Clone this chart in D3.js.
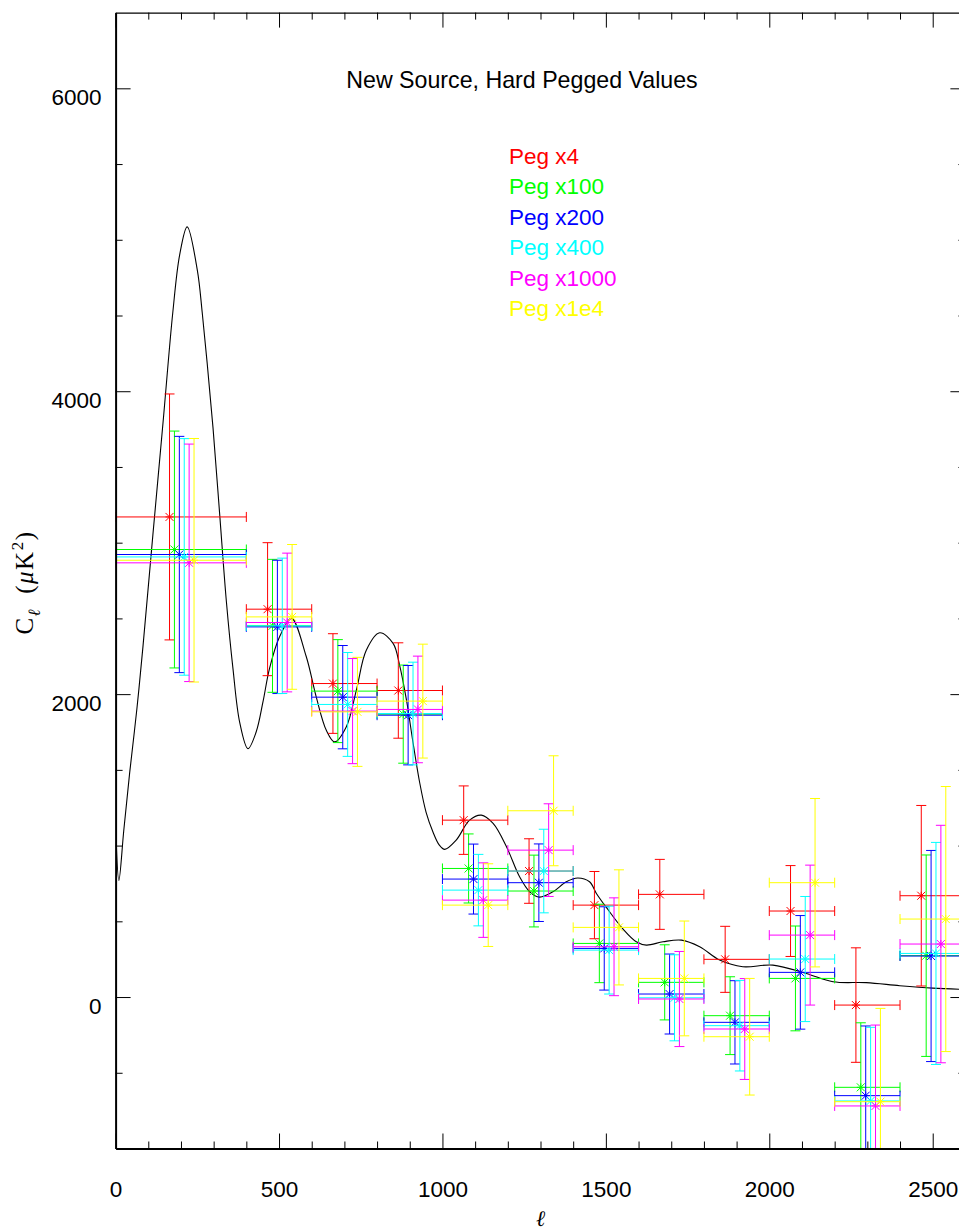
<!DOCTYPE html>
<html>
<head>
<meta charset="utf-8">
<script src="https://cdn.jsdelivr.net/npm/d3@7"></script>
<style>
  body { margin: 0; background: #fff; }
  svg { display: block; }
</style>
</head>
<body>
<svg id="chart" width="959" height="1232"></svg>
<script>
// Multipole bins (band powers span each bin)
const binLo = [0, 400, 600, 800, 1000, 1200, 1400, 1600, 1800, 2000, 2200, 2400];
const binHi = [400, 600, 800, 1000, 1200, 1400, 1600, 1800, 2000, 2200, 2400, 2600];

// Series labels, colours, and the small l-offset each series is drawn at
const seriesNames = ["Peg x4", "Peg x100", "Peg x200", "Peg x400", "Peg x1000", "Peg x1e4"];
const seriesColors = ["#ff0000", "#00ff00", "#0000ff", "#00ffff", "#ff00ff", "#ffff00"];
const seriesShift = [-35, -20, -5, 10, 25, 40];

// Band powers C_l (uK^2) and 1-sigma errors per bin
const pegX4       = [3170, 2561, 2070, 2024, 1168, 832, 607, 678, 249, 568, -53, 669];
const pegX4Err    = [812, 439, 329, 315, 226, 213, 222, 231, 218, 300, 378, 596];
const pegX100     = [2955, 2451, 2020, 1868, 849, 700, 354, 97, -123, 123, -596, 273];
const pegX100Err  = [782, 439, 340, 324, 228, 237, 259, 248, 257, 346, 426, 665];
const pegX200     = [2922, 2444, 1980, 1861, 779, 755, 321, 20, -167, 163, -651, 271];
const pegX200Err  = [780, 440, 341, 328, 231, 256, 275, 264, 275, 375, 460, 697];
const pegX400     = [2906, 2451, 1932, 1872, 706, 832, 310, -5, -189, 251, -686, 288];
const pegX400Err  = [781, 447, 343, 339, 236, 276, 290, 284, 299, 413, 486, 733];
const pegX1000    = [2867, 2473, 1888, 1899, 640, 970, 332, -13, -211, 409, -719, 350];
const pegX1000Err = [784, 458, 347, 352, 246, 306, 323, 314, 333, 462, 534, 784];
const pegX1e4     = [2884, 2510, 1883, 1954, 607, 1230, 460, 123, -262, 755, -691, 515];
const pegX1e4Err  = [804, 478, 360, 376, 273, 363, 380, 379, 385, 556, 616, 875];

const seriesValues = [pegX4, pegX100, pegX200, pegX400, pegX1000, pegX1e4];
const seriesErrors = [pegX4Err, pegX100Err, pegX200Err, pegX400Err, pegX1000Err, pegX1e4Err];

// Theory spectrum sampled in l
const modelL = [2, 10, 25, 43, 65, 84, 114, 145, 175, 196, 219, 250, 265, 280, 298, 318, 339, 359, 380, 405,
  430, 451, 471, 502, 538, 583, 614, 645, 670, 706, 737, 767, 808, 849, 869, 890, 910, 930, 950, 971, 990,
  1007, 1042, 1083, 1119, 1155, 1196, 1236, 1267, 1297, 1338, 1379, 1414, 1450, 1471, 1502, 1552, 1593,
  1624, 1675, 1731, 1787, 1848, 1919, 2011, 2113, 2195, 2297, 2399, 2500, 2600];
const modelCl = [1020, 770, 1100, 1480, 1900, 2320, 3050, 3790, 4520, 4900, 5085, 4800, 4520, 4190, 3760,
  3200, 2610, 2170, 1810, 1640, 1750, 1950, 2170, 2380, 2500, 2250, 1980, 1760, 1685, 1785, 2030, 2290, 2405,
  2335, 2190, 1960, 1680, 1420, 1220, 1090, 1005, 975, 1036, 1168, 1201, 1146, 992, 794, 695, 660, 695,
  761, 786, 761, 684, 590, 450, 365, 343, 365, 376, 332, 244, 200, 211, 156, 101, 95, 75, 59, 50];

// Axis ticks
const xMajorTicks = [0, 500, 1000, 1500, 2000, 2500];
const xMinorTicks = [100, 200, 300, 400, 600, 700, 800, 900, 1100, 1200, 1300, 1400, 1600, 1700, 1800, 1900, 2100, 2200, 2300, 2400];
const yMajorTicks = [0, 2000, 4000, 6000];
const yMinorTicks = [-500, 500, 1000, 1500, 2500, 3000, 3500, 4500, 5000, 5500];

const titleText = "New Source, Hard Pegged Values";

const svg = d3.select("#chart");
const pL = 115.6, pR = 965.4, pT = 12.6, pB = 1148.5;
const x = d3.scaleLinear().domain([0, 2600]).range([pL, pR]);
const y = d3.scaleLinear().domain([-1000, 6500]).range([pB, pT]);
const FONT = "'Liberation Sans', Arial, Helvetica, sans-serif";
const FS = 22.5;

svg.append("defs").append("clipPath").attr("id", "plotClip")
  .append("rect").attr("x", pL).attr("y", pT).attr("width", pR - pL).attr("height", pB - pT);

const plot = svg.append("g").attr("clip-path", "url(#plotClip)");

// Theory curve
const line = d3.line().x((d, i) => x(modelL[i])).y(d => y(d)).curve(d3.curveCatmullRom.alpha(0.5));
plot.append("path").datum(modelCl)
  .attr("d", line).attr("fill", "none").attr("stroke", "#000").attr("stroke-width", 1.1);

// Band powers with error bars
const cap = 5, star = 4;
seriesValues.forEach((vals, s) => {
  const g = plot.append("g").attr("stroke", seriesColors[s]).attr("stroke-width", 1).attr("fill", "none");
  const errs = seriesErrors[s];
  vals.forEach((v, i) => {
    const lc = (binLo[i] + binHi[i]) / 2 + seriesShift[s];
    const cx = x(lc), cy = y(v);
    const x0 = x(binLo[i]), x1 = x(binHi[i]);
    const yTop = y(v + errs[i]), yBot = y(v - errs[i]);
    const segs = [
      [x0, cy, x1, cy], [x0, cy - cap, x0, cy + cap], [x1, cy - cap, x1, cy + cap],
      [cx, yTop, cx, yBot], [cx - cap, yTop, cx + cap, yTop], [cx - cap, yBot, cx + cap, yBot],
      [cx - star, cy - star, cx + star, cy + star], [cx - star, cy + star, cx + star, cy - star],
      [cx - star, cy, cx + star, cy], [cx, cy - star, cx, cy + star]
    ];
    g.selectAll(null).data(segs).enter().append("line")
      .attr("x1", d => d[0]).attr("y1", d => d[1]).attr("x2", d => d[2]).attr("y2", d => d[3]);
  });
});

// Axes
function styleAxis(g, domainWidth) {
  g.select(".domain").attr("stroke", "#000").attr("stroke-width", domainWidth);
  g.selectAll(".tick line").attr("stroke", "#000").attr("stroke-width", 1);
  g.selectAll("text").attr("fill", "#000").style("font-family", FONT).style("font-size", FS + "px");
}

const gxb = svg.append("g").attr("transform", `translate(0,${pB})`)
  .call(d3.axisBottom(x).tickValues(xMajorTicks).tickSize(-15).tickSizeOuter(0).tickPadding(33).tickFormat(d3.format("d")));
styleAxis(gxb, 2);
const gxbm = svg.append("g").attr("transform", `translate(0,${pB})`)
  .call(d3.axisBottom(x).tickValues(xMinorTicks).tickSize(-7).tickSizeOuter(0).tickFormat(""));
styleAxis(gxbm, 0);

const gxt = svg.append("g").attr("transform", `translate(0,${pT})`)
  .call(d3.axisTop(x).tickValues(xMajorTicks).tickSize(-15).tickSizeOuter(0).tickFormat(""));
styleAxis(gxt, 1.4);
const gxtm = svg.append("g").attr("transform", `translate(0,${pT})`)
  .call(d3.axisTop(x).tickValues(xMinorTicks).tickSize(-7).tickSizeOuter(0).tickFormat(""));
styleAxis(gxtm, 0);

const gyl = svg.append("g").attr("transform", `translate(${pL},0)`)
  .call(d3.axisLeft(y).tickValues(yMajorTicks).tickSize(-15).tickSizeOuter(0).tickPadding(14).tickFormat(d3.format("d")));
styleAxis(gyl, 2);
gyl.selectAll(".tick text").attr("dy", "0.71em");
const gylm = svg.append("g").attr("transform", `translate(${pL},0)`)
  .call(d3.axisLeft(y).tickValues(yMinorTicks).tickSize(-7).tickSizeOuter(0).tickFormat(""));
styleAxis(gylm, 0);

const gyr = svg.append("g").attr("transform", `translate(${pR},0)`)
  .call(d3.axisRight(y).tickValues(yMajorTicks).tickSize(-15).tickSizeOuter(0).tickFormat(""));
styleAxis(gyr, 1.4);
const gyrm = svg.append("g").attr("transform", `translate(${pR},0)`)
  .call(d3.axisRight(y).tickValues(yMinorTicks).tickSize(-7).tickSizeOuter(0).tickFormat(""));
styleAxis(gyrm, 0);

// Axis titles
svg.append("text")
  .attr("x", (pL + pR) / 2).attr("y", 1226)
  .attr("text-anchor", "middle")
  .style("font-family", "'Liberation Serif', 'DejaVu Serif', serif")
  .style("font-style", "italic").style("font-size", "22px")
  .text("ℓ");

const ylab = svg.append("text")
  .attr("transform", `translate(33,${(pT + pB) / 2 + 2}) rotate(-90)`)
  .attr("text-anchor", "middle")
  .style("font-family", "'Liberation Serif', 'Times New Roman', serif")
  .style("font-size", "25px")
  .style("letter-spacing", "1.5px");
ylab.append("tspan").text("C");
ylab.append("tspan").attr("dy", 7).style("font-size", "17px").style("font-style", "italic").text("ℓ");
ylab.append("tspan").attr("dy", -7).text("\u2002(");
ylab.append("tspan").style("font-style", "italic").text("μ");
ylab.append("tspan").text("K");
ylab.append("tspan").attr("dy", -10).style("font-size", "17px").text("2");
ylab.append("tspan").attr("dy", 10).text(")");

// Title
svg.append("text")
  .attr("x", 522).attr("y", 88)
  .attr("text-anchor", "middle")
  .style("font-family", FONT).style("font-size", "23.2px")
  .attr("fill", "#000")
  .text(titleText);

// Legend
svg.append("g").selectAll("text").data(seriesNames).enter().append("text")
  .attr("x", 509)
  .attr("y", (d, i) => 164 + i * 30.4)
  .style("font-family", FONT).style("font-size", FS + "px")
  .attr("fill", (d, i) => seriesColors[i])
  .text(d => d);
</script>
</body>
</html>
